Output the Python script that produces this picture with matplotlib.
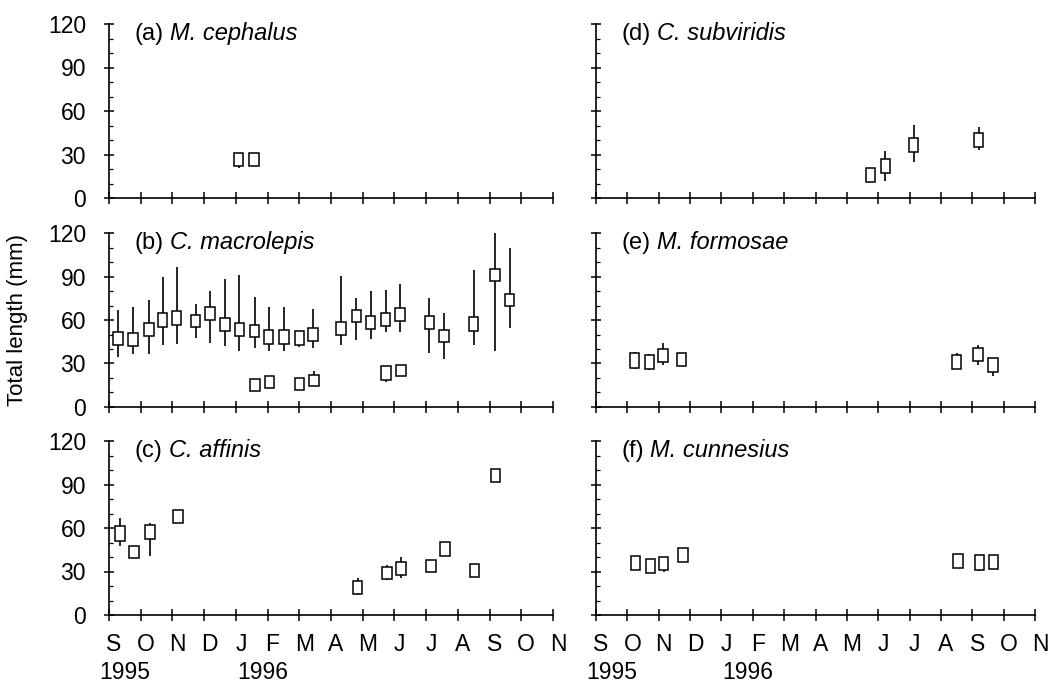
import matplotlib
matplotlib.use("Agg")
import matplotlib.pyplot as plt
from matplotlib.ticker import MultipleLocator
from matplotlib.transforms import ScaledTranslation

plt.rcParams["font.family"] = ["Liberation Sans", "DejaVu Sans"]

month_labels = ["S", "O", "N", "D", "J", "F", "M", "A", "M", "J", "J", "A", "S", "O", "N"]
y_ticks = [0, 30, 60, 90, 120]

# months since 1 Sep 1995; box = lower/upper edge, whiskers = min/max (mm)
a_month = [4.09, 4.58]
a_box_lo = [22.0, 22.0]
a_box_hi = [31.2, 31.2]
a_wh_lo = [21.0, 22.0]
a_wh_hi = [31.2, 31.2]

b_month = [0.28, 0.76, 1.26, 1.69, 2.13, 2.73, 3.19, 3.66, 4.11, 4.59, 5.03, 5.51,
           6.0, 6.43, 7.32, 7.80, 8.25, 8.72, 9.18, 10.1, 10.57, 11.5, 12.17, 12.63,
           4.61, 5.06, 6.0, 6.46, 8.74, 9.2]
b_box_lo = [42.5, 41.8, 48.7, 55.2, 56.8, 55.2, 60.2, 52.6, 49.2, 48.0, 43.7, 43.7,
            42.5, 45.7, 49.9, 58.4, 53.8, 56.1, 59.1, 53.8, 44.6, 52.6, 87.1, 69.9,
            10.8, 13.1, 12.0, 14.3, 18.9, 21.1]
b_box_hi = [51.7, 51.0, 57.9, 64.8, 66.0, 63.7, 69.0, 61.4, 57.9, 56.8, 53.3, 53.3,
            52.2, 54.5, 58.6, 67.1, 62.5, 64.8, 68.3, 63.0, 53.3, 62.1, 95.4, 78.2,
            19.3, 21.1, 20.0, 22.3, 28.0, 29.2]
b_wh_lo = [34.5, 36.8, 36.8, 42.5, 43.4, 47.6, 44.1, 41.8, 38.4, 40.7, 38.4, 38.4,
           41.5, 40.7, 43.0, 46.4, 46.9, 51.5, 51.5, 37.2, 33.1, 43.0, 38.4, 54.5,
           10.8, 13.1, 12.0, 14.3, 17.5, 21.1]
b_wh_hi = [66.7, 69.0, 73.6, 89.7, 96.6, 71.0, 79.8, 88.3, 90.8, 75.9, 69.0, 69.0,
           52.2, 67.8, 90.1, 75.2, 79.8, 80.9, 85.1, 75.2, 64.8, 94.3, 120.0, 109.7,
           19.3, 21.1, 20.0, 24.6, 28.0, 29.2]

c_month = [0.34, 0.79, 1.29, 2.18, 7.84, 8.76, 9.21, 10.16, 10.6, 11.53, 12.18]
c_box_lo = [51.3, 39.2, 52.4, 63.6, 14.7, 24.5, 27.5, 29.6, 40.8, 26.3, 91.6]
c_box_hi = [61.3, 47.8, 61.8, 72.3, 23.5, 33.3, 36.4, 38.0, 50.6, 35.0, 100.9]
c_wh_lo = [47.3, 39.2, 41.0, 63.6, 13.5, 24.0, 25.2, 29.6, 40.8, 26.3, 91.6]
c_wh_hi = [66.9, 47.8, 63.7, 72.3, 25.2, 34.5, 40.3, 38.0, 50.6, 35.0, 100.9]

d_month = [8.76, 9.23, 10.13, 12.2]
d_box_lo = [10.8, 17.1, 31.6, 35.3]
d_box_hi = [20.5, 26.8, 41.1, 45.0]
d_wh_lo = [10.8, 11.8, 24.7, 32.8]
d_wh_hi = [20.5, 32.1, 50.1, 49.2]

e_month = [1.23, 1.7, 2.14, 2.72, 11.5, 12.18, 12.66]
e_box_lo = [27.0, 26.1, 30.7, 28.2, 26.1, 31.6, 24.2]
e_box_hi = [36.9, 35.8, 39.9, 37.4, 35.8, 40.9, 33.5]
e_wh_lo = [26.0, 25.4, 29.3, 28.2, 26.1, 28.9, 21.5]
e_wh_hi = [37.6, 36.4, 43.9, 37.4, 37.0, 42.7, 33.5]

f_month = [1.26, 1.74, 2.16, 2.77, 11.55, 12.23, 12.68]
f_box_lo = [30.8, 28.7, 30.9, 36.6, 32.6, 31.0, 31.9]
f_box_hi = [40.6, 38.5, 40.3, 45.9, 42.0, 41.3, 41.3]
f_wh_lo = [30.8, 28.7, 29.8, 36.6, 32.6, 30.5, 31.9]
f_wh_hi = [40.6, 38.5, 40.3, 45.9, 42.0, 41.3, 41.3]

panels = [
    ("(a)", "M. cephalus", a_month, a_box_lo, a_box_hi, a_wh_lo, a_wh_hi),
    ("(b)", "C. macrolepis", b_month, b_box_lo, b_box_hi, b_wh_lo, b_wh_hi),
    ("(c)", "C. affinis", c_month, c_box_lo, c_box_hi, c_wh_lo, c_wh_hi),
    ("(d)", "C. subviridis", d_month, d_box_lo, d_box_hi, d_wh_lo, d_wh_hi),
    ("(e)", "M. formosae", e_month, e_box_lo, e_box_hi, e_wh_lo, e_wh_hi),
    ("(f)", "M. cunnesius", f_month, f_box_lo, f_box_hi, f_wh_lo, f_wh_hi),
]

W, H = 1051, 689
fig = plt.figure(figsize=(W / 100, H / 100), dpi=100)

col_px = [(109, 553), (596, 1035)]
row_px = [(24, 198), (233, 407), (441, 615)]
shift = ScaledTranslation(5 / 100, 0, fig.dpi_scale_trans)

for i, (tag, species, month, box_lo, box_hi, wh_lo, wh_hi) in enumerate(panels):
    col, row = divmod(i, 3)
    x0, x1 = col_px[col]
    y0, y1 = row_px[row]
    ax = fig.add_axes([x0 / W, 1 - y1 / H, (x1 - x0) / W, (y1 - y0) / H])

    ax.vlines(month, wh_lo, wh_hi, color="black", linewidth=1.2, zorder=2)
    heights = [hi - lo for lo, hi in zip(box_lo, box_hi)]
    ax.bar(month, heights, bottom=box_lo, width=0.3, facecolor="white",
           edgecolor="black", linewidth=1.1, zorder=3)

    ax.set_xlim(0, 14)
    ax.set_ylim(0, 120)
    ax.spines["top"].set_visible(False)
    ax.spines["right"].set_visible(False)
    for s in ("left", "bottom"):
        ax.spines[s].set_linewidth(1.2)

    ax.set_xticks(range(15))
    ax.set_yticks(y_ticks)
    ax.yaxis.set_minor_locator(MultipleLocator(10))
    ax.tick_params(axis="x", direction="inout", length=8, width=1.1, pad=9,
                   labelsize=16.5)
    ax.tick_params(axis="y", which="major", direction="inout", length=7, width=1.1,
                   pad=13, labelsize=16.5)
    ax.tick_params(axis="y", which="minor", direction="in", length=3, width=0.9)

    if row == 2:
        ax.set_xticklabels(month_labels)
        for lab in ax.get_xticklabels():
            lab.set_transform(lab.get_transform() + shift)
    else:
        ax.set_xticklabels([])
    if col == 1:
        ax.set_yticklabels([])

    t1 = ax.text(0.058, 0.91, tag, transform=ax.transAxes, fontsize=17, va="baseline")
    ax.annotate(species, xy=(1, 0), xycoords=t1, xytext=(4.5, 0),
                textcoords="offset points", fontsize=17, style="italic",
                va="bottom", ha="left")

    if row == 2:
        ax.text(0.5, -0.33, "1995", transform=ax.get_xaxis_transform(), fontsize=16.5,
                ha="center", va="center")
        ax.text(4.85, -0.33, "1996", transform=ax.get_xaxis_transform(), fontsize=16.5,
                ha="center", va="center")

fig.text(18 / W, 1 - 320 / H, "Total length (mm)", rotation=90, fontsize=16,
         ha="center", va="center")

fig.savefig("out.png", dpi=100)
